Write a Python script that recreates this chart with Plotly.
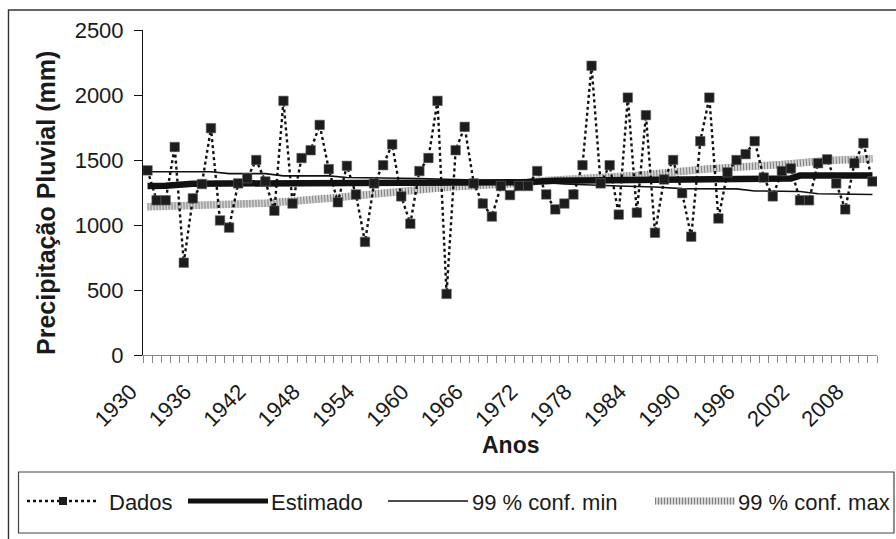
import plotly.graph_objects as go

# Annual rainfall series (mm), 1930-2010
anos = list(range(1930, 2011))
dados = [
    1420, 1190, 1190, 1600, 710, 1205, 1315, 1745, 1035, 980,
    1320, 1360, 1500, 1335, 1110, 1955, 1165, 1515, 1575, 1770,
    1430, 1175, 1455, 1235, 870, 1320, 1460, 1620, 1220, 1010,
    1415, 1515, 1955, 470, 1575, 1755, 1320, 1165, 1065, 1300,
    1230, 1300, 1300, 1415, 1235, 1120, 1165, 1235, 1460, 2225,
    1320, 1460, 1080, 1980, 1095, 1845, 940, 1350, 1500, 1245,
    910, 1645, 1980, 1050, 1405, 1500, 1545, 1645, 1365, 1220,
    1415, 1435, 1190, 1190, 1475, 1505, 1320, 1120, 1475, 1630,
    1335,
]

# Fitted trend and its 99 % confidence limits (break points)
est_anos = [1930, 1932, 1935, 1960, 1972, 1975, 1987, 2001, 2002, 2010]
estimado = [1300, 1302, 1318, 1322, 1330, 1340, 1352, 1358, 1380, 1380]

min_anos = [1930, 1937, 1939, 1943, 1945, 1950, 1952, 1960, 1972, 1976,
            1982, 1986, 1989, 1995, 1997, 2002, 2004, 2010]
conf_min = [1410, 1410, 1395, 1395, 1378, 1378, 1365, 1358, 1335, 1315,
            1300, 1292, 1280, 1278, 1262, 1258, 1240, 1235]

max_anos = [1930, 1936, 1943, 1950, 1956, 1963, 1970, 1974, 1984, 1992,
            2000, 2005, 2010]
conf_max = [1140, 1150, 1168, 1205, 1245, 1291, 1317, 1342, 1381, 1432,
            1465, 1496, 1509]

x_labels = list(range(1930, 2011, 6))
y_ticks = [0, 500, 1000, 1500, 2000, 2500]

W, H = 896, 539
ML, MR, MT, MB = 143, 19, 30, 184
PW, PH = W - ML - MR, H - MT - MB
FONT = "Liberation Sans, Arial, sans-serif"


def px(x):
    return (x - ML) / PW


def py(y):
    return (H - MB - y) / PH


fig = go.Figure()

# 99 % conf. max: stippled grey band
fig.add_trace(go.Scatter(x=max_anos, y=conf_max, mode="lines",
                         line=dict(color="#d4d4d4", width=7.5), hoverinfo="skip"))
fig.add_trace(go.Scatter(x=max_anos, y=conf_max, mode="lines",
                         line=dict(color="#808080", width=7.5, dash="1px,2px"),
                         hoverinfo="skip"))
# 99 % conf. min: thin black line
fig.add_trace(go.Scatter(x=min_anos, y=conf_min, mode="lines",
                         line=dict(color="#111111", width=1.6)))
# Estimado: thick black line
fig.add_trace(go.Scatter(x=est_anos, y=estimado, mode="lines",
                         line=dict(color="#111111", width=6.5)))
# Dados: dotted line with square markers
fig.add_trace(go.Scatter(x=anos, y=dados, mode="lines+markers",
                         line=dict(color="#111111", width=2.4, dash="dot"),
                         marker=dict(symbol="square", size=9.5, color="#1c1c1c",
                                     line=dict(color="#666666", width=0.6))))

fig.update_layout(
    width=W, height=H,
    margin=dict(l=ML, r=MR, t=MT, b=MB),
    paper_bgcolor="white", plot_bgcolor="white",
    showlegend=False,
    font=dict(family=FONT, size=22, color="#1a1a1a"),
)

fig.update_yaxes(
    range=[0, 2500], tickvals=y_ticks, ticks="outside", ticklen=8,
    tickcolor="#111111", showline=True, linecolor="#111111", linewidth=1,
    showgrid=False, zeroline=False, tickfont=dict(size=22),
    ticklabelstandoff=6,
)

fig.update_xaxes(
    range=[1929.5, 2010.5], tickmode="array", tickvals=x_labels,
    ticktext=[str(v) for v in x_labels], ticks="", tickangle=-45,
    showline=True, linecolor="#8a8a8a", linewidth=1.2,
    showgrid=False, zeroline=False, tickfont=dict(size=22),
    ticklabelshift=-17, ticklabelstandoff=14,
    minor=dict(ticks="outside", ticklen=7, tickcolor="#8a8a8a", tickwidth=1,
               tick0=1929.5, dtick=1, showgrid=False),
)

shapes = []
# outer chart frame
shapes.append(dict(type="rect", xref="paper", yref="paper",
                   x0=px(8.5), x1=px(910), y0=py(10), y1=py(560),
                   line=dict(color="#333333", width=1.4), layer="below"))
# legend box
shapes.append(dict(type="rect", xref="paper", yref="paper",
                   x0=px(18.5), x1=px(894), y0=py(472), y1=py(533),
                   line=dict(color="#444444", width=1.2)))

ly = 501
# Dados sample
shapes.append(dict(type="line", xref="paper", yref="paper",
                   x0=px(27), x1=px(97), y0=py(ly), y1=py(ly),
                   line=dict(color="#111111", width=2.4, dash="dot")))
shapes.append(dict(type="rect", xref="paper", yref="paper",
                   x0=px(59), x1=px(67), y0=py(ly - 4), y1=py(ly + 4),
                   fillcolor="#1c1c1c", line=dict(width=0)))
# Estimado sample
shapes.append(dict(type="line", xref="paper", yref="paper",
                   x0=px(188), x1=px(268), y0=py(ly), y1=py(ly),
                   line=dict(color="#111111", width=5)))
# conf. min sample
shapes.append(dict(type="line", xref="paper", yref="paper",
                   x0=px(388), x1=px(468), y0=py(ly), y1=py(ly),
                   line=dict(color="#111111", width=1.4)))
# conf. max sample
shapes.append(dict(type="line", xref="paper", yref="paper",
                   x0=px(655), x1=px(735), y0=py(ly), y1=py(ly),
                   line=dict(color="#d4d4d4", width=7)))
shapes.append(dict(type="line", xref="paper", yref="paper",
                   x0=px(655), x1=px(735), y0=py(ly), y1=py(ly),
                   line=dict(color="#808080", width=7, dash="1px,2px")))
fig.update_layout(shapes=shapes)

annotations = [
    dict(text="<b>Anos</b>", xref="paper", yref="paper", x=px(511), y=py(445),
         showarrow=False, font=dict(size=23), xanchor="center", yanchor="middle"),
    dict(text="<b>Precipitação Pluvial (mm)</b>", xref="paper", yref="paper",
         x=px(46), y=py(203), showarrow=False, textangle=-90,
         font=dict(size=25), xanchor="center", yanchor="middle"),
]
legend_texts = [("Dados", 107), ("Estimado", 269), ("99 % conf. min", 470),
                ("99 % conf. max", 736)]
for txt, x0 in legend_texts:
    annotations.append(dict(text=txt, xref="paper", yref="paper", x=px(x0),
                            y=py(ly + 1), showarrow=False, xanchor="left",
                            yanchor="middle", font=dict(size=22)))
fig.update_layout(annotations=annotations)

fig.write_html("out.html")
